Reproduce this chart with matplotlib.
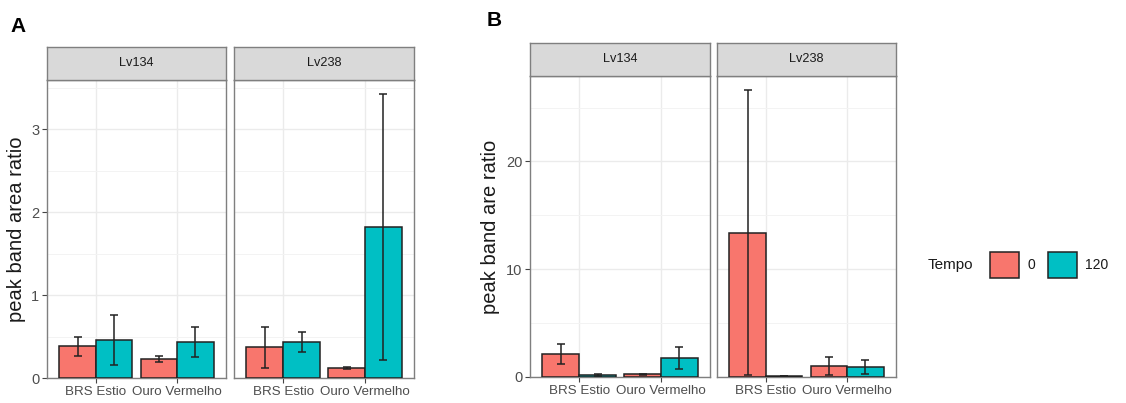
import matplotlib
matplotlib.use("Agg")
import matplotlib.pyplot as plt
import numpy as np
from matplotlib.patches import Patch

plt.rcParams['font.family'] = ['Liberation Sans', 'DejaVu Sans']

# ---------------- data ----------------
cultivars = ["BRS Estio", "Ouro Vermelho"]
facets = ["Lv134", "Lv238"]
tempo_labels = ["0", "120"]
colors = ["#F8766D", "#00BFC4"]

# Panel A : peak band area ratio
A_lv134_t0 = [0.38, 0.23]
A_lv134_t0_err = [0.12, 0.04]
A_lv134_t120 = [0.46, 0.43]
A_lv134_t120_err = [0.30, 0.18]
A_lv238_t0 = [0.37, 0.12]
A_lv238_t0_err = [0.245, 0.01]
A_lv238_t120 = [0.43, 1.82]
A_lv238_t120_err = [0.12, 1.60]

# Panel B : peak band are ratio
B_lv134_t0 = [2.15, 0.25]
B_lv134_t0_err = [0.90, 0.05]
B_lv134_t120 = [0.20, 1.75]
B_lv134_t120_err = [0.10, 1.05]
B_lv238_t0 = [13.4, 1.00]
B_lv238_t0_err = [13.2, 0.85]
B_lv238_t120 = [0.05, 0.90]
B_lv238_t120_err = [0.00, 0.65]

A_yticks = [0, 1, 2, 3]
A_yminor = [0.5, 1.5, 2.5, 3.5]
B_yticks = [0, 10, 20]
B_yminor = [5, 15, 25]

W, H = 1126, 403
fig = plt.figure(figsize=(W / 100, H / 100), dpi=100)


def px_axes(x0, y0, x1, y1):
    return fig.add_axes([x0 / W, 1 - y1 / H, (x1 - x0) / W, (y1 - y0) / H])


def draw_panel(ax, t0, t0e, t120, t120e, yticks, yminor, show_ylabels):
    x = np.arange(1, len(cultivars) + 1)
    bw = 0.45
    for vals, errs, off, col in [(t0, t0e, -bw / 2, colors[0]), (t120, t120e, bw / 2, colors[1])]:
        ax.bar(x + off, vals, width=bw, color=col, edgecolor="#222222", linewidth=1.1, zorder=3)
        ax.errorbar(x + off, vals, yerr=errs, fmt="none", ecolor="#222222",
                    elinewidth=1.1, capsize=3.2, capthick=1.1, zorder=4)
    ax.set_xlim(0.4, 2.6)
    ax.margins(y=0.05)
    ax.set_xticks(x)
    ax.set_xticklabels(cultivars)
    ax.set_yticks(yticks)
    ax.set_yticks(yminor, minor=True)
    ax.tick_params(axis="y", which="minor", length=0)
    ax.tick_params(axis="x", which="major", length=3.5, width=0.8, color="#444444",
                   labelsize=9.6, labelcolor="#4D4D4D", pad=2)
    ax.tick_params(axis="y", which="major", length=3.5, width=0.8, color="#444444",
                   labelsize=10.5, labelcolor="#4D4D4D", pad=2)
    if not show_ylabels:
        ax.tick_params(axis="y", which="major", labelleft=False, length=0)
    ax.grid(True, which="major", color="#EBEBEB", linewidth=1.0, zorder=0)
    ax.grid(True, which="minor", axis="y", color="#F3F3F3", linewidth=0.7, zorder=0)
    ax.set_axisbelow(True)
    for s in ax.spines.values():
        s.set_color("#7F7F7F")
        s.set_linewidth(1.0)


def draw_strip(x0, y0, x1, y1, label):
    sax = px_axes(x0, y0, x1, y1)
    sax.set_facecolor("#D9D9D9")
    sax.set_xticks([])
    sax.set_yticks([])
    for s in sax.spines.values():
        s.set_color("#7F7F7F")
        s.set_linewidth(1.0)
    sax.text(0.5, 0.5, label, ha="center", va="center", fontsize=9.2, color="#1A1A1A",
             transform=sax.transAxes)


# ---------------- Panel A ----------------
A_data = [(A_lv134_t0, A_lv134_t0_err, A_lv134_t120, A_lv134_t120_err),
          (A_lv238_t0, A_lv238_t0_err, A_lv238_t120, A_lv238_t120_err)]
A_x = [(47, 226), (234, 414)]
axA = []
for i, (xx, d) in enumerate(zip(A_x, A_data)):
    ax = px_axes(xx[0], 80, xx[1], 378)
    draw_panel(ax, *d, A_yticks, A_yminor, i == 0)
    draw_strip(xx[0], 47, xx[1], 80, facets[i])
    axA.append(ax)
ylimA = [min(a.get_ylim()[0] for a in axA), max(a.get_ylim()[1] for a in axA)]
for a in axA:
    a.set_ylim(ylimA)
axA[0].set_ylabel("peak band area ratio", fontsize=14.5, color="#1A1A1A", labelpad=4)

# ---------------- Panel B ----------------
B_data = [(B_lv134_t0, B_lv134_t0_err, B_lv134_t120, B_lv134_t120_err),
          (B_lv238_t0, B_lv238_t0_err, B_lv238_t120, B_lv238_t120_err)]
B_x = [(530, 710), (717, 896)]
axB = []
for i, (xx, d) in enumerate(zip(B_x, B_data)):
    ax = px_axes(xx[0], 76, xx[1], 377)
    draw_panel(ax, *d, B_yticks, B_yminor, i == 0)
    draw_strip(xx[0], 43, xx[1], 76, facets[i])
    axB.append(ax)
ylimB = [min(a.get_ylim()[0] for a in axB), max(a.get_ylim()[1] for a in axB)]
for a in axB:
    a.set_ylim(ylimB)
axB[0].set_ylabel("peak band are ratio", fontsize=14.5, color="#1A1A1A", labelpad=4)

# ---------------- letters ----------------
fig.text(10 / W, 1 - 26 / H, "A", fontsize=15, fontweight="bold", va="center", ha="left")
fig.text(487 / W, 1 - 21 / H, "B", fontsize=15, fontweight="bold", va="center", ha="left")

# ---------------- legend ----------------
fig.text(928 / W, 1 - 265 / H, "Tempo", fontsize=11, color="#1A1A1A", va="center", ha="left")
handles = [Patch(facecolor=c, edgecolor="#222222", linewidth=1.1) for c in colors]
fig.legend(handles, tempo_labels, ncol=2, loc="center left",
           bbox_to_anchor=(990 / W, 1 - 265 / H), frameon=False, fontsize=10,
           handlelength=2.1, handleheight=2.5, handletextpad=0.6, columnspacing=0.9,
           borderpad=0, borderaxespad=0, labelcolor="#1A1A1A")

fig.savefig("out.png", dpi=100, facecolor="white")
